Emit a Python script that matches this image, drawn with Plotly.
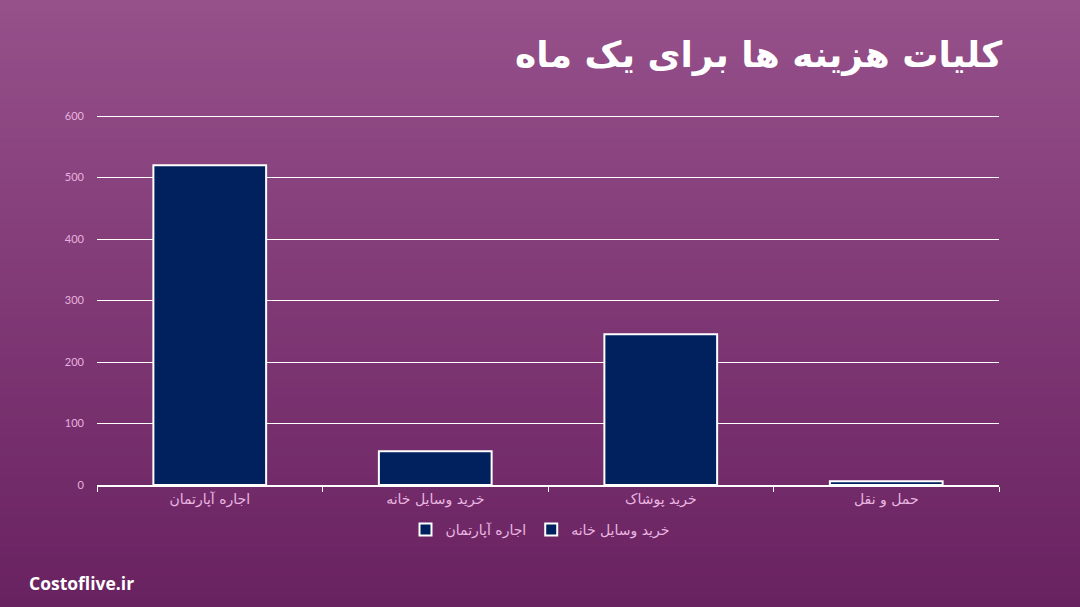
import plotly.graph_objects as go

categories = ["اجاره آپارتمان", "خرید وسایل خانه", "خرید پوشاک", "حمل و نقل"]
values = [520, 55, 245, 6]
legend_shown = [True, True, False, False]
y_ticks = [0, 100, 200, 300, 400, 500, 600]

W, H = 1080, 607
ML, MR, MT, MB = 97, 81, 113, 122
PW, PH = W - ML - MR, H - MT - MB

fig = go.Figure()
for cat, val, show in zip(categories, values, legend_shown):
    fig.add_trace(go.Bar(
        x=[cat], y=[val], name=cat, showlegend=show,
        width=0.5,
        marker=dict(color="#01215e", line=dict(color="white", width=2)),
    ))

# background gradient
top = (0x96, 0x50, 0x8a)
bot = (0x69, 0x22, 0x60)
n = 61
shapes = []
for i in range(n):
    py0 = i * H / n - (1 if i == 0 else 0)
    py1 = (i + 1) * H / n + 1
    t = (i + 0.5) / n
    c = tuple(round(top[k] + (bot[k] - top[k]) * t) for k in range(3))
    shapes.append(dict(
        type="rect", xref="paper", yref="paper", layer="below",
        x0=-(ML + 2) / PW, x1=(W - ML + 2) / PW,
        y0=(H - MB - py1) / PH, y1=(H - MB - py0) / PH,
        fillcolor="rgb(%d,%d,%d)" % c, line=dict(width=0),
    ))

fig.update_layout(
    width=W, height=H,
    margin=dict(l=ML, r=MR, t=MT, b=MB, autoexpand=False, pad=0),
    paper_bgcolor="#7f3876",
    plot_bgcolor="rgba(0,0,0,0)",
    barmode="overlay",
    shapes=shapes,
    font=dict(family="DejaVu Sans", color="#e6b3df"),
    xaxis=dict(
        showgrid=False, showline=True, linecolor="white", linewidth=1.5,
        ticks="outside", tickson="boundaries", ticklen=5, tickcolor="white",
        tickfont=dict(size=14, color="#e9b6e2", family="DejaVu Sans"),
        fixedrange=True, automargin=False,
    ),
    yaxis=dict(
        range=[0, 604.9], tickvals=y_ticks, ticktext=[str(v) for v in y_ticks],
        showgrid=True, gridcolor="white", gridwidth=1, zeroline=False,
        showline=False, ticks="", ticklabelstandoff=12, automargin=False,
        tickfont=dict(size=11, color="#e6b3df", family="Lato"),
    ),
    legend=dict(
        orientation="h", xref="container", x=0.5, xanchor="center",
        yref="container", y=(H - 530) / H, yanchor="middle",
        bgcolor="rgba(0,0,0,0)",
        font=dict(size=14, color="#e9b6e2", family="DejaVu Sans"),
        itemwidth=30,
    ),
    annotations=[
        dict(text="<b>کلیات هزینه ها برای یک ماه</b>", xref="paper", yref="paper",
             x=(1004 - ML) / PW, y=(H - MB - 55) / PH, xanchor="right", yanchor="middle",
             showarrow=False, font=dict(size=36, color="white", family="DejaVu Sans")),
        dict(text="<b>Costoflive.ir</b>", xref="paper", yref="paper",
             x=(27 - ML) / PW, y=(H - MB - 583) / PH, xanchor="left", yanchor="middle",
             showarrow=False, font=dict(size=17.5, color="white", family="Open Sans")),
    ],
)

fig.write_html("out.html")
